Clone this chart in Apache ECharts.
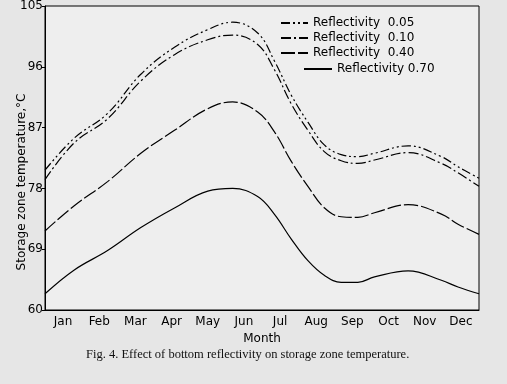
<!DOCTYPE html>
<html><head><meta charset="utf-8">
<script src="https://cdn.jsdelivr.net/npm/echarts@6/dist/echarts.min.js"></script>
<style>html,body{margin:0;padding:0;background:#e6e6e6;}#c{width:507px;height:384px;}</style>
</head><body><div id="c"></div>
<script>
const months = ['Jan','Feb','Mar','Apr','May','Jun','Jul','Aug','Sep','Oct','Nov','Dec'];
const yTicks = [60,69,78,87,96,105];
const xPos = [0, 0.8, 1.73, 2.65, 3.58, 4.5, 5.19, 5.88, 6.34, 6.81, 7.27, 7.73, 8.19, 8.65, 9.11, 10.04, 10.96, 11.42, 12];
const r005 = [80.7, 85.4, 89.1, 94.9, 98.9, 101.5, 102.6, 101.0, 96.9, 91.8, 87.8, 84.4, 83.0, 82.7, 83.2, 84.3, 82.7, 81.2, 79.5];
const r010 = [79.3, 84.7, 88.3, 93.9, 97.8, 100.0, 100.7, 99.3, 95.6, 90.5, 86.6, 83.4, 82.1, 81.7, 82.2, 83.3, 81.7, 80.3, 78.3];
const r040 = [71.7, 75.4, 79.0, 83.2, 86.6, 89.8, 90.8, 89.3, 86.4, 82.0, 78.3, 75.1, 73.8, 73.7, 74.4, 75.6, 74.2, 72.7, 71.2];
const r070 = [62.4, 65.9, 68.8, 72.2, 75.1, 77.6, 78.0, 76.8, 74.2, 70.5, 67.3, 65.1, 64.1, 64.1, 64.9, 65.8, 64.4, 63.4, 62.4];
const names = ['Reflectivity  0.05','Reflectivity  0.10','Reflectivity  0.40','Reflectivity 0.70'];
const dashes = [[9,3,2,3,2,3],[10,3,2,3],[14,3],'solid'];
const vals = [r005, r010, r040, r070];

const font = 'DejaVu Sans';
const chart = echarts.init(document.getElementById('c'));
chart.setOption({
  backgroundColor: '#e6e6e6',
  animation: false,
  grid: {left: 45, right: 28, top: 3, bottom: 74, show: true, borderColor: '#000', borderWidth: 1, backgroundColor: '#eeeeee'},
  xAxis: [
    {type: 'category', data: months, boundaryGap: true,
     axisLine: {lineStyle: {color: '#000', width: 1}},
     axisTick: {inside: true, length: 5, lineStyle: {color: '#000'}},
     axisLabel: {color: '#000', fontFamily: font, fontSize: 12, margin: 6},
     name: 'Month', nameLocation: 'middle', nameGap: 17,
     nameTextStyle: {color: '#000', fontFamily: font, fontSize: 12}},
    {type: 'value', min: 0, max: 12, show: false}
  ],
  yAxis: {type: 'value', min: yTicks[0], max: yTicks[yTicks.length-1], interval: 9,
    axisLine: {show: true, lineStyle: {color: '#000'}},
    axisTick: {show: true, length: 3, lineStyle: {color: '#000'}},
    splitLine: {show: false},
    axisLabel: {color: '#000', fontFamily: font, fontSize: 12, margin: 2}},
  legend: [
    {data: names.slice(0,3), orient: 'vertical', left: 275, top: 12, itemWidth: 27, itemHeight: 10, itemGap: 3,
     itemStyle: {opacity: 0},
     textStyle: {color: '#000', fontFamily: font, fontSize: 12}, selectedMode: false},
    {data: names.slice(3), orient: 'vertical', left: 298, top: 58, itemWidth: 28, itemHeight: 10,
     itemStyle: {opacity: 0},
     textStyle: {color: '#000', fontFamily: font, fontSize: 12}, selectedMode: false}
  ],
  graphic: [
    {type: 'text', left: 86, top: 348, style: {text: 'Fig. 4. Effect of bottom reflectivity on storage zone temperature.', font: '12.5px "Liberation Serif"', fill: '#111'}},
    {type: 'text', x: 22, y: 182, rotation: Math.PI/2, style: {text: 'Storage zone temperature,°C', font: '12px "DejaVu Sans"', fill: '#000', align: 'center', verticalAlign: 'middle'}}
  ],
  series: vals.map((v, i) => ({
    name: names[i], type: 'line', xAxisIndex: 1, smooth: 0.4, symbol: 'none',
    data: v.map((y, j) => [xPos[j], y]),
    lineStyle: {color: '#000', width: 1.2, type: dashes[i]},
    itemStyle: {color: '#000'}
  }))
});
</script></body></html>
